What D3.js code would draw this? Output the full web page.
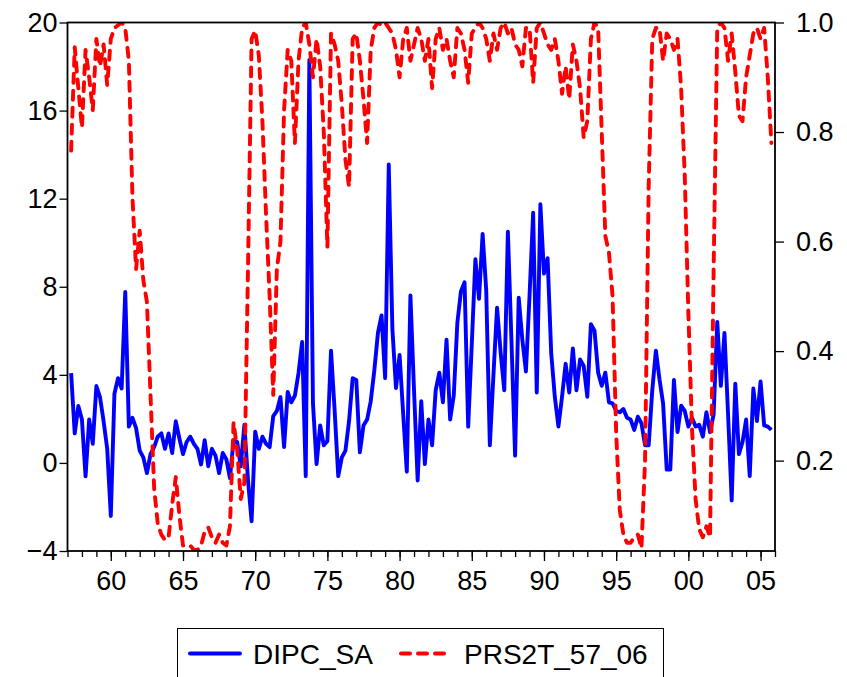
<!DOCTYPE html>
<html><head><meta charset="utf-8">
<script src="https://cdn.jsdelivr.net/npm/d3@7"></script>
<style>
body{margin:0;background:#fff;}
svg{display:block;font-family:"Liberation Sans",Arial,sans-serif;}
</style>
</head><body>
<svg id="chart" width="847" height="677"></svg>
<script>
// Quarterly observations, 1957Q2 .. 2005Q4
const firstObs = 1957.25;
const dipcSA = [
 4.08, 1.34, 2.59, 1.97, -0.61, 1.97, 0.87, 3.49, 2.99, 1.89,
 0.64, -2.41, 3.14, 3.85, 3.38, 7.76, 1.65, 2.05, 1.58, 0.56,
 0.25, -0.46, 0.40, 0.72, 1.19, 1.34, 0.64, 1.34, 0.45, 1.89,
 1.11, 0.40, 0.95, 1.19, 0.87, 0.64, -0.07, 1.03, -0.15, 0.64,
 0.33, -0.46, 0.45, 0.17, -0.69, 1.03, 0.95, -0.15, 1.73, -0.77,
 -2.65, 1.42, 0.64, 1.19, 0.87, 0.72, 2.13, 2.36, 2.99, 0.72,
 3.22, 2.75, 3.06, 4.08, 5.49, -0.6, 18.3, 2.7, -0.05, 1.7,
 0.8, 1.0, 5.1, 2.4, -0.6, 0.25, 0.56, 1.9, 3.85, 3.77,
 0.48, 1.7, 1.97, 2.8, 4.2, 5.9, 6.7, 3.85, 13.55, 6.1,
 3.4, 4.9, 2.2, -0.4, 7.6, 3.3, -0.8, 2.8, -0.05, 1.97,
 0.8, 3.3, 4.1, 2.75, 5.6, 1.97, 3.05, 6.35, 7.8, 8.2,
 1.65, 5.4, 9.25, 7.45, 10.4, 7.84, 0.8, 4.0, 7.05, 5.0,
 3.3, 10.5, 5.5, 0.33, 7.5, 5.6, 4.15, 7.6, 11.36, 3.2,
 11.75, 8.6, 9.3, 5.0, 3.0, 1.65, 3.0, 4.5, 3.2, 5.2,
 3.3, 4.7, 4.4, 3.0, 6.3, 6.0, 4.1, 3.5, 4.1, 2.75,
 2.7, 2.36, 2.3, 2.45, 2.05, 1.97, 1.5, 2.1, 1.8, 0.8,
 0.8, 3.3, 5.1, 3.8, 2.7, -0.3, -0.3, 3.77, 1.4, 2.6,
 2.36, 1.65, 2.05, 1.65, 1.73, 1.19, 2.3, 1.4, 2.2, 6.4,
 3.5, 5.9, 2.2, -1.7, 3.6, 0.4, 0.95, 1.97, -0.6, 3.38,
 1.9, 3.7, 1.7, 1.65, 1.5
];
const prs2t = [
 0.766, 0.955, 0.88, 0.808, 0.95, 0.90, 0.84, 0.97, 0.92, 0.96,
 0.886, 0.97, 0.99, 0.995, 1.0, 0.99, 0.93, 0.68, 0.55, 0.62,
 0.53, 0.49, 0.32, 0.15, 0.085, 0.065, 0.055, 0.06, 0.12, 0.17,
 0.10, 0.045, 0.045, 0.045, 0.037, 0.037, 0.045, 0.07, 0.078, 0.06,
 0.05, 0.065, 0.05, 0.045, 0.08, 0.27, 0.22, 0.13, 0.16, 0.55,
 0.97, 0.985, 0.94, 0.82, 0.65, 0.50, 0.32, 0.55, 0.60, 0.84,
 0.95, 0.93, 0.78, 0.93, 0.99, 1.0, 0.96, 0.90, 0.97, 0.92,
 0.80, 0.59, 0.98, 0.96, 0.93, 0.85, 0.75, 0.70, 0.97, 0.98,
 0.93, 0.86, 0.78, 0.95, 0.99, 1.0, 0.995, 1.0, 0.99, 0.98,
 0.95, 0.90, 0.97, 0.99, 0.93, 0.96, 0.99, 0.97, 0.93, 0.97,
 0.88, 0.97, 0.99, 0.95, 0.97, 0.93, 0.90, 0.99, 0.98, 0.95,
 0.89, 0.98, 0.99, 1.0, 0.99, 0.97, 0.93, 0.98, 0.95, 0.99,
 1.0, 0.98, 0.99, 0.96, 0.95, 0.92, 0.99, 0.99, 0.89, 0.99,
 1.0, 0.98, 0.96, 0.95, 0.97, 0.93, 0.87, 0.92, 0.86, 0.96,
 0.93, 0.88, 0.79, 0.82, 0.97, 1.0, 0.99, 0.80, 0.61, 0.58,
 0.50, 0.25, 0.11, 0.065, 0.05, 0.05, 0.06, 0.065, 0.04, 0.20,
 0.70, 0.97, 0.99, 0.99, 0.93, 0.98, 0.97, 0.95, 0.97, 0.88,
 0.72, 0.47, 0.26, 0.13, 0.075, 0.06, 0.08, 0.06, 0.55, 0.99,
 1.0, 0.99, 0.93, 0.98, 0.91, 0.83, 0.82, 0.90, 0.94, 0.98,
 0.99, 0.97, 0.99, 0.90, 0.78
];
const leftTicks = [-4, 0, 4, 8, 12, 16, 20];
const rightTicks = [0.2, 0.4, 0.6, 0.8, 1.0];
const xMajorTicks = [1960, 1965, 1970, 1975, 1980, 1985, 1990, 1995, 2000, 2005];
const xMinorTicks = d3.range(1957, 2007);
const seriesNames = ["DIPC_SA", "PRS2T_57_06"];
const seriesColors = ["#0000ff", "#ff0000"];

const svg = d3.select("#chart");
const L = 67.5, R = 775, T = 22.5, B = 551;
const FONT = 27;

const x = d3.scaleLinear().domain([1957, 2006]).range([L, R]);
const yL = d3.scaleLinear().domain([-4, 20]).range([B, T]);
const yR = d3.scaleLinear().domain([0.035, 1.0]).range([B, T]);

const tOf = i => firstObs + i * 0.25;
const blueData = dipcSA.map((v, i) => ({t: tOf(i), v}));
const redData = prs2t.map((v, i) => ({t: tOf(i), v}));

svg.append("defs").append("clipPath").attr("id", "plotclip")
  .append("rect").attr("x", L).attr("y", T).attr("width", R - L).attr("height", B - T);

function styleAxis(g) {
  g.select(".domain").remove();
  g.selectAll(".tick line").attr("stroke", "#000").attr("stroke-width", 1.3);
  g.selectAll(".tick text").attr("fill", "#000").style("font-size", FONT + "px")
    .style("font-family", '"Liberation Sans", Arial, sans-serif');
}
svg.append("g").attr("transform", `translate(${L},0)`)
  .call(d3.axisLeft(yL).tickValues(leftTicks).tickSize(8).tickPadding(2).tickFormat(d3.format("d")))
  .call(styleAxis);
svg.append("g").attr("transform", `translate(${R},0)`)
  .call(d3.axisRight(yR).tickValues(rightTicks).tickSize(9).tickPadding(12).tickFormat(d3.format(".1f")))
  .call(styleAxis);
svg.append("g").attr("transform", `translate(0,${B})`)
  .call(d3.axisBottom(x).tickValues(xMinorTicks).tickSize(6).tickFormat(""))
  .call(styleAxis);
svg.append("g").attr("transform", `translate(0,${B})`)
  .call(d3.axisBottom(x).tickValues(xMajorTicks).tickSize(10).tickPadding(10)
    .tickFormat(d => String(d % 100).padStart(2, "0")))
  .call(styleAxis);

const plot = svg.append("g").attr("clip-path", "url(#plotclip)");
plot.append("path").datum(blueData)
  .attr("fill", "none").attr("stroke", seriesColors[0]).attr("stroke-width", 3.9)
  .attr("stroke-linejoin", "round")
  .attr("d", d3.line().x(d => x(d.t)).y(d => yL(d.v)));
plot.append("path").datum(redData)
  .attr("fill", "none").attr("stroke", seriesColors[1]).attr("stroke-width", 3.9)
  .attr("stroke-dasharray", "9,8").attr("stroke-linecap", "round").attr("stroke-linejoin", "round")
  .attr("d", d3.line().x(d => x(d.t)).y(d => yR(d.v)));

svg.append("rect").attr("x", L).attr("y", T).attr("width", R - L).attr("height", B - T)
  .attr("fill", "none").attr("stroke", "#000").attr("stroke-width", 1.8);

const lg = svg.append("g");
lg.append("rect").attr("x", 177.5).attr("y", 628.5).attr("width", 486).attr("height", 70)
  .attr("fill", "#fff").attr("stroke", "#000").attr("stroke-width", 1);
const legendItems = [
  {name: seriesNames[0], color: seriesColors[0], x0: 188, dash: null},
  {name: seriesNames[1], color: seriesColors[1], x0: 399, dash: "9,8"}
];
legendItems.forEach(it => {
  const ln = lg.append("line").attr("x1", it.x0 + 2).attr("x2", it.x0 + 52)
    .attr("y1", 653.5).attr("y2", 653.5).attr("stroke", it.color).attr("stroke-width", 4)
    .attr("stroke-linecap", "round");
  if (it.dash) ln.attr("stroke-dasharray", it.dash);
  lg.append("text").attr("x", it.x0 + 65).attr("y", 663.5).text(it.name)
    .style("font-size", "28px").attr("fill", "#000");
});
</script>
</body></html>
